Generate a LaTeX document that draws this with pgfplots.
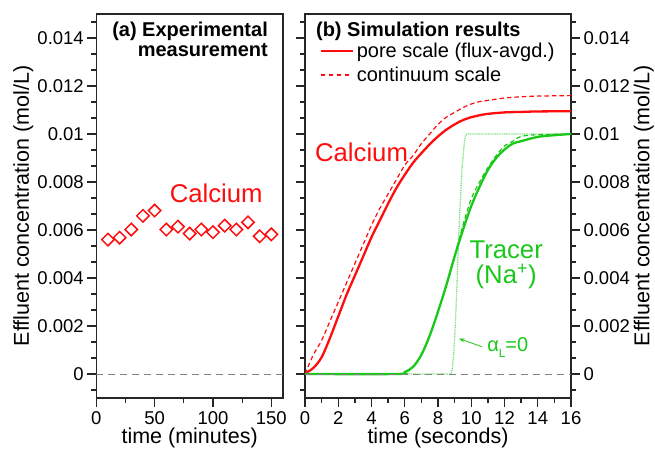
\documentclass[border=0pt]{standalone}
\usepackage{fontspec}
\setmainfont{Liberation Sans}
\usepackage{pgfplots}
\pgfplotsset{compat=1.18}
\usetikzlibrary{arrows.meta}
\definecolor{cared}{RGB}{255,12,12}
\definecolor{nagreen}{RGB}{25,200,25}
\definecolor{lightgreen}{RGB}{120,225,120}
\definecolor{zerogray}{RGB}{130,130,130}

\pgfplotsset{
  common/.style={
    scale only axis, height=384pt,
    ymin=-0.001, ymax=0.015,
    ytick={0,0.002,0.004,0.006,0.008,0.01,0.012,0.014},
    minor ytick={-0.000667,0.000667,0.001333,0.002667,0.003333,0.004667,0.005333,0.006667,0.007333,0.008667,0.009333,0.010667,0.011333,0.012667,0.013333,0.014667},
    scaled y ticks=false,
    yticklabel style={/pgf/number format/fixed, /pgf/number format/precision=3},
    xticklabel style={yshift=-1pt},
    /pgf/number format/assume math mode=true,
    tick align=outside,
    xtick pos=left,
    major tick length=9pt, minor tick length=5pt,
    axis line style={line width=1.5pt, black!85},
    every tick/.style={black!85, line width=1.3pt},
    tick label style={font=\fontsize{18.5}{20}\selectfont},
    label style={font=\fontsize{21.5}{24}\selectfont},
    xlabel style={at={(axis description cs:0.5,-0.1042)}, anchor=center},
  }
}

\begin{document}
\begin{tikzpicture}
\useasboundingbox (0pt,0pt) rectangle (655pt,-448pt);

% ---------------- (a) ----------------
\begin{axis}[common,
  at={(96.3pt,-398pt)}, anchor=south west, width=186.7pt,
  xmin=0, xmax=160, xtick={0,50,100,150}, minor xtick={25,75,125},
  ytick pos=left,
  xlabel={time (minutes)},
  ylabel={Effluent concentration (mol/L)},
  ylabel style={at={(axis description cs:-0.391,0.5)}, anchor=center},
]
\addplot[zerogray, line width=1pt, dash pattern=on 7pt off 5pt] coordinates {(0,0) (160,0)};
\addplot[cared, only marks, mark=square, mark size=4.4pt, mark options={rotate=45, line width=1.5pt, fill=none}] coordinates {
(10,0.00560) (20,0.00568) (30,0.00602) (40,0.00659) (50,0.00681)
(60,0.00602) (70,0.00614) (80,0.00585) (90,0.00602) (100,0.00591)
(110,0.00618) (120,0.00602) (130,0.00632) (140,0.00574) (150,0.00582)};
\node[anchor=north east, align=right, inner sep=0pt, font=\fontsize{20}{20}\selectfont\bfseries]
  at (rel axis cs:0.92,0.979) {(a) Experimental\\measurement};
\node[text=cared, font=\fontsize{25.7}{26}\selectfont] at (axis cs:102.8,0.00752) {Calcium};
\end{axis}

% ---------------- (b) ----------------
\begin{axis}[common,
  at={(305pt,-398pt)}, anchor=south west, width=266pt,
  xmin=0, xmax=16, xtick={0,2,4,6,8,10,12,14,16}, minor xtick={1,3,5,7,9,11,13,15},
  yticklabel pos=right,
  xlabel={time (seconds)},
  ylabel={Effluent concentration (mol/L)},
  ylabel style={at={(axis description cs:1.274,0.5)}, anchor=center},
  legend style={at={(axis description cs:0.054,0.93)}, anchor=north west, draw=none, fill=none,
    font=\fontsize{20}{21}\selectfont, inner sep=0pt, row sep=4pt,
    /tikz/every odd column/.append style={column sep=1pt}},
  legend cell align=left,
  legend image code/.code={\draw[#1, draw=cared] (0pt,0pt) -- (32pt,0pt);},
]
\addlegendimage{draw=cared, line width=2.2pt}
\addlegendentry{pore scale (flux-avgd.)}
\addlegendimage{draw=cared, line width=1.2pt, dash pattern=on 4.5pt off 3.5pt}
\addlegendentry{continuum scale}
\addplot[cared, line width=2.3pt, smooth, tension=0.55, forget plot] coordinates {
(0,0.00003) (0.5,0.00025) (1,0.0007) (1.5,0.0015) (2,0.0024) (2.5,0.0033) (3,0.0041)
(3.5,0.0049) (4,0.0057) (4.5,0.0064) (5,0.0071) (5.5,0.00775) (6,0.0083) (6.5,0.0088)
(7,0.0092) (7.5,0.00957) (8,0.0099) (8.5,0.01018) (9,0.0104) (9.5,0.01058) (10,0.0107)
(10.5,0.01078) (11,0.01084) (12,0.0109) (13,0.01092) (14,0.01094) (16,0.01095)};
\addplot[cared, line width=1.2pt, dash pattern=on 4.5pt off 3pt, smooth, tension=0.55, forget plot] coordinates {
(0,0) (0.5,0.0008) (1,0.0014) (1.5,0.0022) (2,0.0030) (2.5,0.0038) (3,0.0046)
(3.5,0.0054) (4,0.0062) (4.5,0.0069) (5,0.0075) (5.5,0.0081) (6,0.0087) (6.5,0.0091)
(7,0.0096) (7.5,0.0100) (8,0.0104) (8.5,0.0107) (9,0.0109) (9.5,0.0111) (10,0.01125)
(10.5,0.01135) (11,0.0114) (12,0.0115) (13,0.01155) (14,0.01158) (16,0.0116)};
\addplot[lightgreen, line width=1.3pt, dash pattern=on 1pt off 0.8pt, forget plot] coordinates {
(0,0) (8.8,0) (8.85,0.0002) (8.9,0.0005) (8.95,0.0009) (9.0,0.0015) (9.05,0.0022) (9.1,0.003) (9.15,0.0039) (9.2,0.0049) (9.25,0.0058) (9.3,0.0066)
(9.35,0.0073) (9.4,0.008) (9.45,0.0086) (9.5,0.009) (9.55,0.0094) (9.6,0.0097) (9.65,0.0099) (9.7,0.01) (16,0.01)};
\addplot[nagreen, line width=1.2pt, dash pattern=on 4.5pt off 3pt, smooth, tension=0.55, forget plot] coordinates {
(0,0) (5.5,0) (6,0.00008) (6.5,0.0003) (7,0.0008) (7.5,0.0016) (8,0.0026) (8.5,0.0037)
(9,0.0049) (9.5,0.0062) (10,0.0073) (10.5,0.0080) (11,0.0086) (11.5,0.0091) (12,0.0095)
(12.5,0.0097) (13,0.0099) (14,0.00997) (16,0.0100)};
\addplot[nagreen, line width=2.3pt, smooth, tension=0.55, forget plot] coordinates {
(0,0) (5.5,0) (6,0.00008) (6.5,0.0003) (7,0.0008) (7.5,0.0016) (8,0.0026) (8.5,0.0037)
(9,0.0049) (9.5,0.0060) (10,0.0070) (10.5,0.0078) (11,0.0085) (11.5,0.0090) (12,0.00935)
(12.5,0.0096) (13,0.0097) (14,0.00988) (15,0.00995) (16,0.0100)};
\addplot[zerogray, line width=1pt, dash pattern=on 7pt off 5pt, forget plot] coordinates {(0,0) (16,0)};
\node[anchor=north west, inner sep=0pt, font=\fontsize{20}{20}\selectfont\bfseries]
  at (rel axis cs:0.041,0.979) {(b) Simulation results};
\node[text=cared, font=\fontsize{25.7}{26}\selectfont] at (axis cs:3.4,0.00923) {Calcium};
\node[text=nagreen, align=center, font=\fontsize{25.7}{25}\selectfont] at (axis cs:12.1,0.00455) {Tracer\\(Na\textsuperscript{+})};
\draw[-{Stealth[length=6pt,width=4pt]}, nagreen, line width=0.8pt] (axis cs:10.63,0.00114) -- (axis cs:9.25,0.00148);
\node[anchor=west, text=nagreen, inner sep=0pt, font=\fontsize{20}{20}\selectfont] at (axis cs:10.95,0.00112)
  {α\raisebox{-0.3em}{\fontsize{12}{12}\selectfont L}=0};
\end{axis}
\end{tikzpicture}
\end{document}
